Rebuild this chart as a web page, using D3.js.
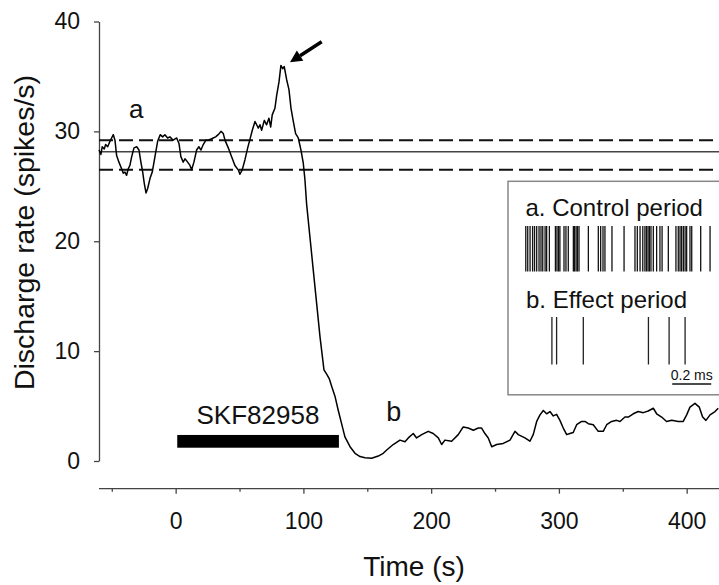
<!DOCTYPE html>
<html><head><meta charset="utf-8">
<script src="https://cdn.jsdelivr.net/npm/d3@7"></script>
<style>
html,body{margin:0;padding:0;background:#fff;}
svg{display:block;font-family:"Liberation Sans",Arial,sans-serif;}
</style></head>
<body><svg id="c" width="719" height="585"></svg>
<script>
// ---- data ----
const time = [-60,-58.5,-57.5,-55.9,-54.8,-53.2,-51.4,-48.8,-47.5,-46.2,
-44.4,-42.3,-41,-39.7,-38.4,-37.1,-35.8,-34.4,-32.6,-30.5,
-28.7,-27.2,-25.8,-24.6,-23.2,-21.9,-20.1,-18.3,-16.2,-14.1,
-12.1,-10.2,-8.4,-6.3,-4.5,-1.9,0.8,2.6,4.1,5.9,
7.3,9.4,11.2,12.5,14.3,16.4,18.2,19.8,21.6,23.7,
25.5,27.6,29.4,31.3,33.3,35.5,37.3,38.6,41.2,43.8,
46.4,49,50.3,52.1,54.2,56.4,58.2,60,62.1,63.4,
64.7,66,67.3,69.4,71.2,73,74.4,75.6,77.7,79.1,
80.9,82.4,83.8,85,86.9,88.7,90.3,92.1,93.9,96,
98.1,99.9,101.2,102.5,105.1,107.7,110.4,113,116.1,118.2,
120.2,122.1,124.7,127.3,129.9,132.5,136.5,140.4,144.3,148.2,
153.4,158.6,162.5,165.2,170.3,175.6,179.5,182.1,186,188.6,
192.6,197.7,201.6,205.6,208.2,210.8,216,221.2,225.1,229,
233,236.9,239.5,242.1,244.7,247.4,251.3,256.4,261.7,265.6,
268.2,273.4,277.3,279.9,282.6,285.2,287.8,290.4,293,295.6,
298.2,300.8,303.4,306.1,308.6,311.2,313.9,317.8,320.4,323,
326.9,330.8,334.7,337.4,341.3,345.2,347.8,351.7,354.3,358.2,
362.1,366,369.9,373.9,376.5,380.4,384.3,388.3,393.4,397.3,
400,402.6,406.5,409.9,412.5,415.1,418.3,422.2,424.7];
const rate = [28.3,27.9,28.6,28.4,28.8,28.6,29.1,29.7,29.2,27.8,
27.2,26.6,26.2,26.3,26,26.6,26.9,27.7,28.5,28.6,
28.3,27.2,26.3,25.3,24.4,24.8,25.7,26.3,27.7,29.1,
29.7,29.5,29.7,29.4,29.5,29.2,29.4,28.9,27.7,27.2,
27.5,27.2,26.9,26.5,27.2,28.3,28.6,28.3,28.8,29.2,
29.2,29.3,29.4,29.5,29.7,30,29.8,29.2,28.5,27.7,
26.9,26.5,26.1,26.5,27.4,28.5,29.3,30.1,30.9,30.6,
30.3,30.6,30.1,31,30.6,31.2,30.4,31.5,32.1,33.3,
34.5,36,35.7,35.9,34.7,33.8,32.1,30.9,29.8,29.4,
28.3,27.1,25.6,23.4,20.4,17.4,14.3,11.3,8.3,7.9,
7.5,6.8,5.9,4.6,3.4,2.2,1.3,0.7,0.4,0.3,
0.25,0.45,0.7,1,1.5,1.9,1.75,2.1,2.5,2.1,
2.4,2.7,2.5,2.1,1.5,1.9,1.8,2.4,3.1,3,
2.8,3,3,2.5,2.1,1.3,1.5,1.6,1.9,2.7,
2.4,2.1,1.8,2.4,3.6,4.2,4.6,4.3,4.5,4.1,
4.25,3.7,3,2.4,2.5,2.6,3.3,3.6,3.6,3.4,
3.3,2.7,2.7,3.3,3.6,3.7,3.6,4,4,4.3,
4.5,4.4,4.55,4.8,4.3,4,3.6,3.7,3.6,3.6,
4.2,4.9,5.25,4.9,4,3.7,4.2,4.5,4.8];
const xMajorTicks = [0,100,200,300,400];
const xMinorTicks = [-50,50,150,250,350];
const yTicks = [0,10,20,30,40];
const meanRate = 28.15;
const bandRates = [29.2,26.5];
const drugName = "SKF82958";
const drugPeriod = [1.25,127.8];
const drugBarRates = [1.21,2.37];
const arrowFrom = [114.3,38.15];
const arrowTo = [89.5,36.3];
const controlSpikes = [0.004,0.014,0.026,0.039,0.049,0.060,0.072,0.082,0.091,0.103,0.111,0.125,
0.156,0.164,0.172,0.179,0.200,0.210,0.222,0.248,0.254,0.262,0.269,0.277,0.325,0.376,0.388,0.400,
0.410,0.446,0.508,0.564,0.576,0.590,0.604,0.615,0.623,0.631,0.638,0.646,0.658,0.675,0.692,0.703,
0.735,0.774,0.786,0.795,0.803,0.812,0.821,0.829,0.846,0.855,0.901,0.949];
const effectSpikes = [0.138,0.162,0.299,0.633,0.739,0.821];
const scaleBarMs = [0.755,0.955];

// ---- chart ----
const svg = d3.select("#c");
const FONT = '"Liberation Sans",Arial,sans-serif';
const x = d3.scaleLinear().domain([-60,425]).range([99,718.6]);
const y = d3.scaleLinear().domain([0,40]).range([461,21.5]);
const axisCol = "#444";

// Y axis
const gy = svg.append("g").attr("transform","translate(99,0)")
  .call(d3.axisLeft(y).tickValues(yTicks).tickSize(5).tickSizeOuter(0).tickPadding(14));
gy.select(".domain").attr("stroke",axisCol).attr("stroke-width",1.3);
gy.selectAll(".tick line").attr("stroke",axisCol).attr("stroke-width",1.3);
gy.selectAll(".tick text").attr("font-size",23).attr("font-family",FONT).attr("fill","#111");

// X axis (offset below)
const xAxisY = 488.7;
const gx = svg.append("g").attr("transform",`translate(0,${xAxisY})`)
  .call(d3.axisBottom(x).tickValues(xMajorTicks).tickSize(5).tickSizeOuter(0));
gx.select(".domain").attr("stroke",axisCol).attr("stroke-width",1.3).attr("d","M99,0H719");
gx.selectAll(".tick line").attr("stroke",axisCol).attr("stroke-width",1.3);
gx.selectAll(".tick text").attr("font-size",23).attr("font-family",FONT).attr("fill","#111")
  .attr("y",40.8).attr("dy",0);
const gxm = svg.append("g").attr("transform",`translate(0,${xAxisY})`)
  .call(d3.axisBottom(x).tickValues(xMinorTicks).tickSize(3).tickFormat(""));
gxm.select(".domain").remove();
gxm.selectAll(".tick line").attr("stroke",axisCol).attr("stroke-width",1.3);

// axis titles
svg.append("text").attr("x",414).attr("y",576).attr("text-anchor","middle")
  .attr("font-size",28).attr("fill","#111").text("Time (s)");
svg.append("text").attr("transform","translate(33.5,232.5) rotate(-90)").attr("text-anchor","middle")
  .attr("font-size",28.5).attr("fill","#111").text("Discharge rate (spikes/s)");

// reference lines
svg.append("line").attr("x1",x(-60)).attr("x2",719).attr("y1",y(meanRate)).attr("y2",y(meanRate))
  .attr("stroke","#444").attr("stroke-width",1.4);
svg.selectAll("line.band").data(bandRates).join("line").attr("class","band")
  .attr("x1",x(-60)).attr("x2",719).attr("y1",d=>y(d)).attr("y2",d=>y(d))
  .attr("stroke","#111").attr("stroke-width",2).attr("stroke-dasharray","14,6");

// trace
const pts = time.map((t,i)=>[t,rate[i]]);
svg.append("path").datum(pts)
  .attr("d",d3.line().x(d=>x(d[0])).y(d=>y(d[1])))
  .attr("fill","none").attr("stroke","#000").attr("stroke-width",1.5).attr("stroke-linejoin","round");

// drug bar
svg.append("rect").attr("x",x(drugPeriod[0])).attr("width",x(drugPeriod[1])-x(drugPeriod[0]))
  .attr("y",y(drugBarRates[1])).attr("height",y(drugBarRates[0])-y(drugBarRates[1])).attr("fill","#000");
svg.append("text").attr("x",x(64.4)).attr("y",y(3.37)).attr("text-anchor","middle")
  .attr("font-size",26).attr("fill","#111").text(drugName);

// labels a, b
svg.append("text").attr("x",x(-36.5)).attr("y",y(31.2)).attr("font-size",26).attr("fill","#111").text("a");
svg.append("text").attr("x",x(164.8)).attr("y",y(3.67)).attr("font-size",27).attr("fill","#111").text("b");

// arrow
const ax0=x(arrowFrom[0]), ay0=y(arrowFrom[1]), ax1=x(arrowTo[0]), ay1=y(arrowTo[1]);
const ang = Math.atan2(ay1-ay0, ax1-ax0);
const hl = 12, hw = 6;
const bx = ax1 - hl*Math.cos(ang), by = ay1 - hl*Math.sin(ang);
svg.append("line").attr("x1",ax0).attr("y1",ay0).attr("x2",bx).attr("y2",by)
  .attr("stroke","#000").attr("stroke-width",3.5);
svg.append("path").attr("d",`M${ax1},${ay1}L${bx+hw*Math.sin(ang)},${by-hw*Math.cos(ang)}L${bx-hw*Math.sin(ang)},${by+hw*Math.cos(ang)}Z`)
  .attr("fill","#000");

// inset
const inset = svg.append("g");
inset.append("rect").attr("x",508).attr("y",181.3).attr("width",230).attr("height",213.5)
  .attr("fill","#fff").attr("stroke","#888").attr("stroke-width",1.5);
const xs = d3.scaleLinear().domain([0,1]).range([525,720]);
inset.append("text").attr("x",525.5).attr("y",215.5).attr("font-size",24).attr("fill","#111").text("a. Control period");
inset.selectAll("line.cs").data(controlSpikes).join("line").attr("class","cs")
  .attr("x1",d=>xs(d)).attr("x2",d=>xs(d)).attr("y1",226).attr("y2",271.5)
  .attr("stroke","#111").attr("stroke-width",1.3);
inset.append("text").attr("x",526).attr("y",308).attr("font-size",24).attr("fill","#111").text("b. Effect period");
inset.selectAll("line.es").data(effectSpikes).join("line").attr("class","es")
  .attr("x1",d=>xs(d)).attr("x2",d=>xs(d)).attr("y1",317).attr("y2",364.5)
  .attr("stroke","#222").attr("stroke-width",1.3);
inset.append("line").attr("x1",xs(scaleBarMs[0])).attr("x2",xs(scaleBarMs[1])).attr("y1",384).attr("y2",384)
  .attr("stroke","#111").attr("stroke-width",1.6);
inset.append("text").attr("x",(xs(scaleBarMs[0])+xs(scaleBarMs[1]))/2).attr("y",380).attr("text-anchor","middle")
  .attr("font-size",14).attr("fill","#111").text("0.2 ms");
</script></body></html>
